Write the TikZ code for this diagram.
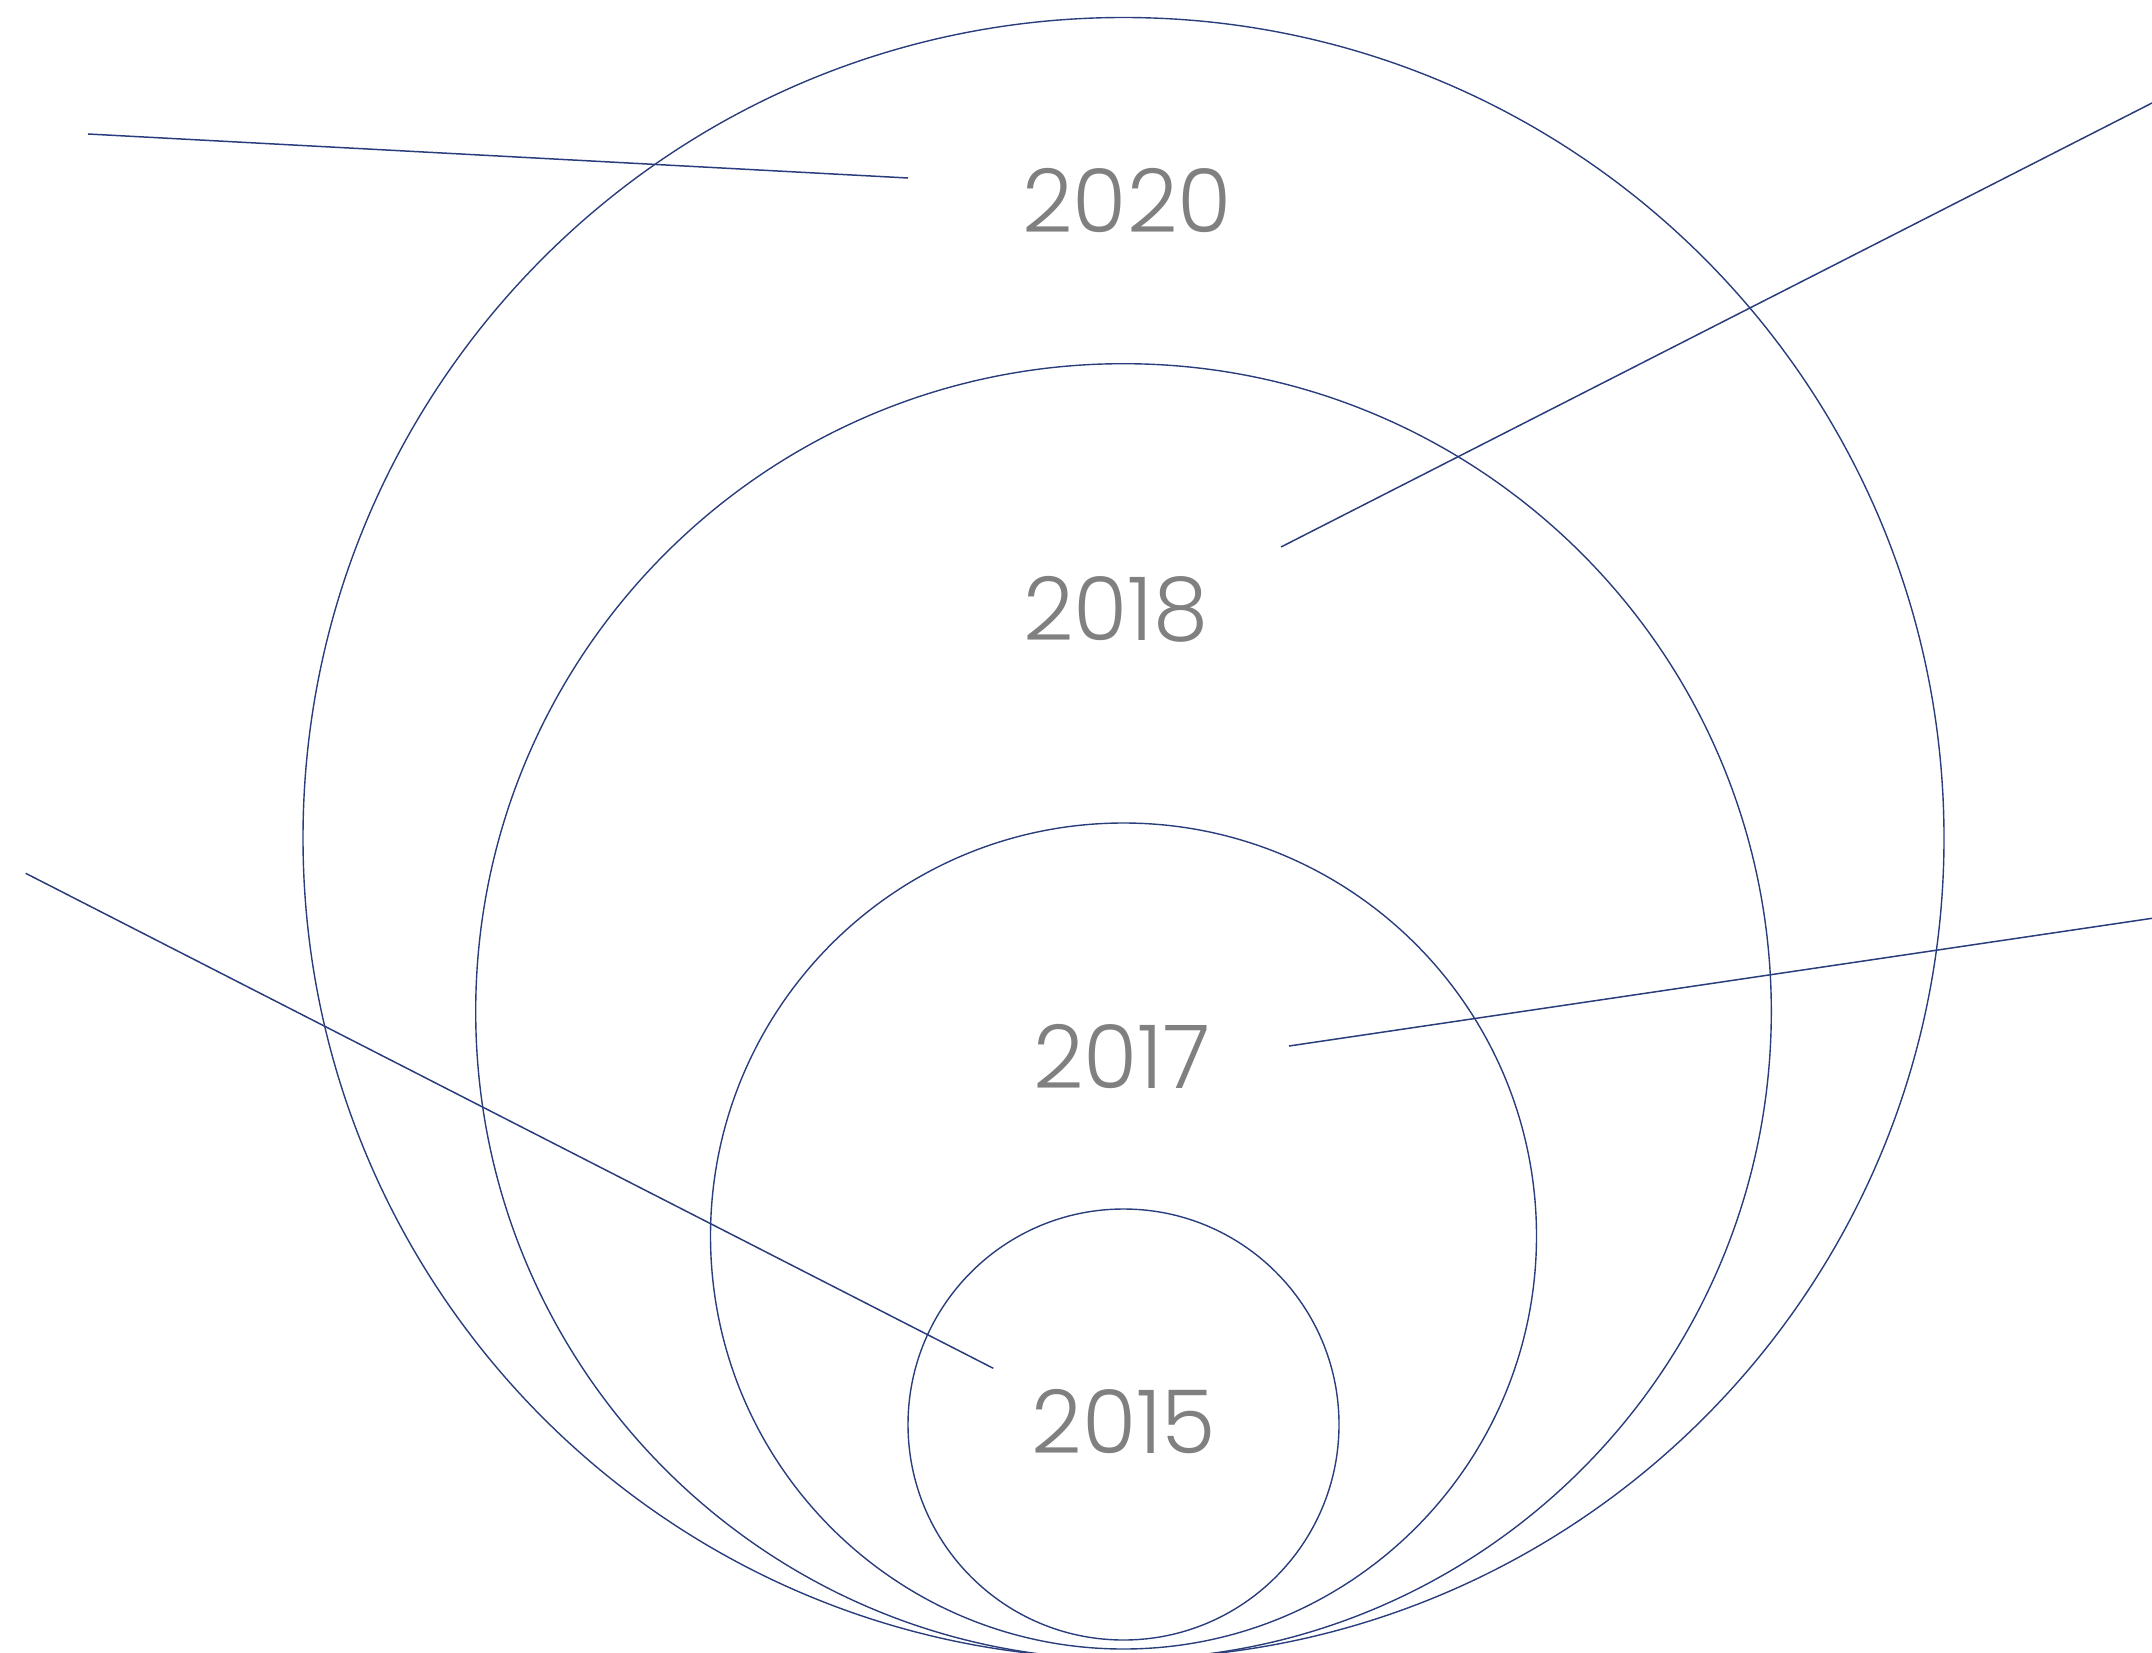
\documentclass[tikz,border=0pt]{standalone}
\usepackage{fontspec}
\setmainfont{Poppins}[UprightFont={* Light}]
\definecolor{ringblue}{HTML}{2A3E7C}
\definecolor{yeargray}{HTML}{808080}
\begin{document}
\begin{tikzpicture}[x=0.5pt,y=-0.5pt,
  ring/.style={draw=ringblue,line width=0.7pt},
  leader/.style={draw=ringblue,line width=0.75pt},
  year/.style={text=yeargray,font=\fontsize{44}{50}\selectfont,inner sep=0pt}]
\useasboundingbox (0,0) rectangle (2152,1653);
\begin{scope}
\clip (0,0) rectangle (2152,1653);
\draw[ring] (1123.5,838) circle[radius=410.25pt];
\draw[ring] (1123.5,1011.5) circle[radius=323.9pt];
\draw[ring] (1123.5,1236) circle[radius=206.5pt];
\draw[ring] (1123.5,1424.5) circle[radius=107.75pt];
\end{scope}
\node[year] (y2020) at (1127,201) {2020};
\node[year] (y2018) at (1116,609) {2018};
\node[year] (y2017) at (1122,1057) {2017};
\node[year] (y2015) at (1124,1422) {2015};
\coordinate (a1) at (88,134);
\coordinate (a2) at (908,178);
\coordinate (b1) at (1281,547);
\coordinate (b2) at (2152,103);
\coordinate (c1) at (25.7,873.3);
\coordinate (c2) at (993.3,1368.3);
\coordinate (d1) at (1289,1046);
\coordinate (d2) at (2152,918.3);
\draw[leader] (a1) -- (a2);
\draw[leader] (b1) -- (b2);
\draw[leader] (c1) -- (c2);
\draw[leader] (d1) -- (d2);
\end{tikzpicture}
\end{document}
